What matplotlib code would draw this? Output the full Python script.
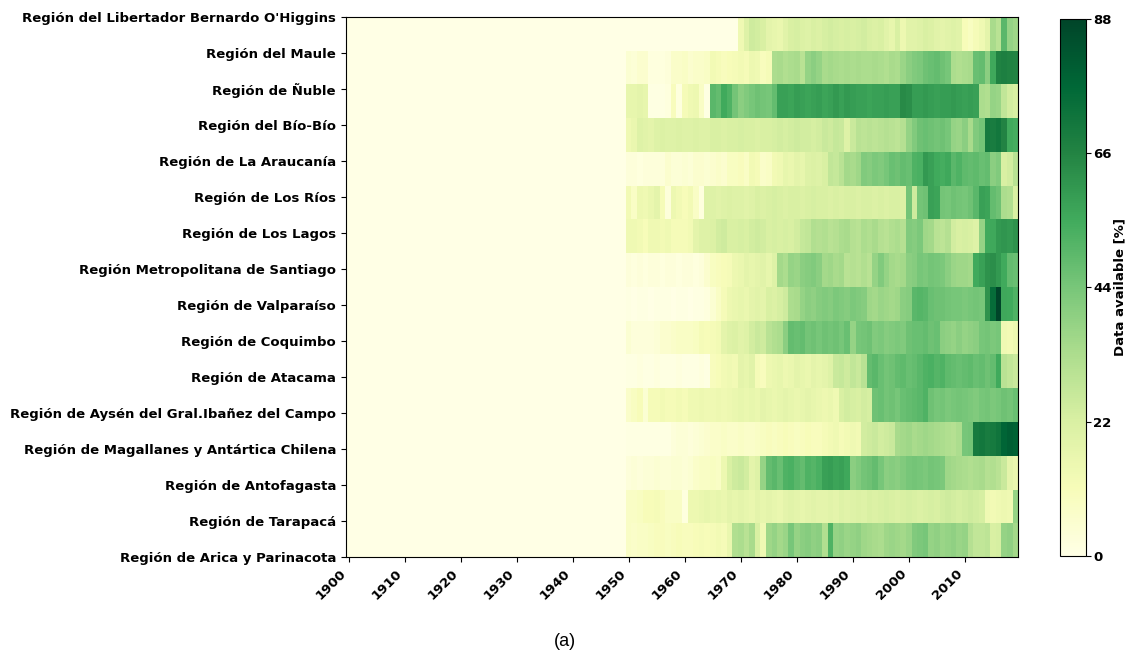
import numpy as np
import matplotlib
matplotlib.use("Agg")
import matplotlib.pyplot as plt

regions = [
    "Región de Arica y Parinacota",
    "Región de Tarapacá",
    "Región de Antofagasta",
    "Región de Magallanes y Antártica Chilena",
    "Región de Aysén del Gral.Ibañez del Campo",
    "Región de Atacama",
    "Región de Coquimbo",
    "Región de Valparaíso",
    "Región Metropolitana de Santiago",
    "Región de Los Lagos",
    "Región de Los Ríos",
    "Región de La Araucanía",
    "Región del Bío-Bío",
    "Región de Ñuble",
    "Región del Maule",
    "Región del Libertador Bernardo O'Higgins",
]

years = np.arange(1900, 2020)
first_data_year = 1950  # all cells before this year are 0

# values for 1950..2019 (% data available)
arica = [8, 7, 8, 8, 9, 10, 10, 9, 10, 11, 10, 10, 11, 12, 11, 12, 13, 12, 16, 32,
         33, 30, 34, 22, 14, 36, 38, 35, 37, 44, 38, 40, 41, 39, 40,
         32, 52, 38, 39, 37, 38, 39, 36, 35, 34, 33, 36, 37, 36, 35, 37, 42, 43, 44, 38,
         39, 37, 38, 39, 37, 38, 31, 28, 28, 29, 22, 23, 38, 39, 35]
tarapaca = [8, 8, 9, 11, 11, 12, 10, 8, 8, 8, 2, 15, 15, 16, 17, 16, 17, 16, 18, 17,
            18, 17, 16, 18, 17, 18, 17, 16, 18, 19, 18, 17, 18, 19, 18,
            18, 19, 18, 20, 19, 20, 21, 20, 22, 21, 22, 23, 22, 21, 22, 23, 22, 21, 22, 23,
            22, 24, 25, 24, 23, 24, 25, 24, 23, 14, 13, 14, 15, 14, 38]
antofagasta = [3, 4, 3, 4, 4, 5, 4, 4, 5, 5, 4, 5, 7, 8, 8, 9, 8, 15, 22, 25,
               26, 24, 18, 20, 38, 48, 50, 47, 52, 53, 50, 48, 52, 51, 53,
               58, 59, 57, 58, 56, 40, 42, 45, 46, 48, 44, 40, 41, 40, 42, 44, 45, 44, 43, 45,
               44, 43, 36, 35, 34, 33, 32, 33, 34, 31, 32, 30, 26, 18, 16]
magallanes = [1, 1, 1, 1, 1, 1, 1, 1, 3, 4, 4, 3, 4, 5, 6, 7, 7, 8, 7, 7,
              8, 7, 7, 8, 9, 10, 9, 10, 11, 10, 9, 10, 11, 10, 10,
              12, 13, 14, 12, 13, 14, 13, 24, 25, 26, 24, 25, 26, 34, 35, 36, 34, 35, 36, 35,
              34, 33, 32, 31, 33, 44, 45, 70, 71, 69, 70, 72, 78, 80, 79]
aysen = [7, 9, 11, 5, 12, 12, 13, 12, 12, 13, 12, 14, 14, 15, 14, 14, 15, 14, 15, 16,
         17, 16, 17, 16, 18, 17, 16, 17, 18, 17, 16, 17, 18, 17, 16,
         15, 16, 14, 22, 24, 23, 22, 24, 23, 46, 47, 45, 46, 44, 47, 48, 49, 50, 52, 46,
         44, 45, 43, 44, 45, 44, 43, 42, 44, 45, 43, 44, 46, 45, 47]
atacama = [1, 1, 2, 1, 1, 2, 1, 1, 1, 2, 1, 1, 1, 2, 1, 10, 11, 13, 14, 13,
           18, 17, 19, 12, 10, 15, 16, 17, 15, 16, 18, 17, 16, 18, 17,
           18, 20, 26, 27, 25, 28, 26, 30, 48, 50, 47, 45, 46, 48, 49, 47, 48, 50, 52, 53,
           51, 52, 49, 48, 47, 48, 49, 47, 48, 46, 48, 55, 30, 28, 26]
coquimbo = [5, 3, 3, 3, 3, 4, 6, 6, 7, 8, 8, 8, 9, 12, 11, 12, 13, 18, 20, 21,
            19, 20, 24, 26, 25, 30, 32, 33, 40, 48, 47, 48, 45, 46, 44,
            46, 45, 46, 44, 47, 38, 44, 45, 46, 42, 43, 41, 42, 43, 42, 46, 47, 47, 48, 46,
            47, 40, 39, 38, 40, 38, 39, 40, 44, 45, 43, 44, 14, 13, 15]
valparaiso = [1, 0, 1, 1, 0, 1, 1, 1, 0, 1, 1, 0, 1, 1, 2, 5, 8, 12, 15, 16,
              17, 16, 18, 19, 18, 22, 21, 23, 25, 33, 34, 38, 40, 39, 41,
              42, 41, 43, 42, 41, 43, 42, 41, 36, 35, 37, 36, 35, 36, 40, 41, 50, 51, 50, 47,
              46, 46, 45, 44, 44, 43, 44, 45, 44, 62, 75, 88, 56, 55, 52]
metropolitana = [3, 2, 3, 2, 3, 3, 2, 3, 3, 2, 3, 3, 2, 3, 6, 9, 10, 11, 12, 15,
                 16, 18, 17, 18, 19, 17, 20, 35, 33, 38, 37, 40, 41, 42, 40,
                 35, 36, 34, 35, 30, 31, 30, 32, 30, 38, 42, 38, 35, 34, 35, 40, 41, 44, 43, 45,
                 44, 43, 40, 37, 36, 36, 35, 55, 58, 62, 63, 60, 55, 48, 47]
los_lagos = [14, 14, 13, 11, 14, 14, 13, 14, 12, 12, 12, 13, 18, 20, 20, 21, 24, 25, 22, 22,
             23, 22, 24, 25, 24, 22, 23, 22, 23, 22, 24, 27, 28, 32, 31,
             32, 30, 31, 33, 34, 31, 30, 33, 32, 34, 31, 30, 32, 33, 31, 42, 41, 43, 36, 35,
             30, 29, 31, 24, 22, 23, 22, 20, 38, 55, 56, 60, 61, 60, 62]
los_rios = [13, 8, 15, 14, 16, 18, 12, 3, 15, 13, 11, 13, 8, 2, 20, 20, 19, 20, 21, 20,
            20, 19, 20, 22, 21, 22, 23, 22, 21, 22, 22, 21, 22, 23, 22,
            22, 21, 22, 21, 22, 22, 21, 22, 22, 21, 22, 21, 22, 22, 21, 45, 25, 45, 46, 58,
            57, 45, 44, 46, 45, 44, 46, 50, 58, 57, 48, 46, 33, 32, 22]
araucania = [3, 3, 2, 3, 3, 3, 3, 6, 4, 4, 5, 4, 6, 6, 5, 6, 7, 6, 9, 9,
             10, 8, 13, 12, 7, 8, 13, 14, 17, 16, 18, 17, 20, 21, 20,
             22, 28, 27, 30, 35, 34, 36, 42, 41, 43, 42, 44, 47, 46, 48, 47, 52, 53, 60, 58,
             55, 54, 56, 50, 52, 49, 48, 49, 47, 48, 40, 42, 22, 24, 30]
biobio = [14, 16, 20, 19, 18, 20, 21, 20, 20, 21, 20, 20, 21, 20, 20, 22, 22, 21, 22, 22,
          23, 22, 22, 21, 22, 22, 23, 24, 23, 24, 25, 24, 24, 23, 24,
          26, 25, 27, 26, 20, 26, 30, 29, 30, 29, 30, 31, 30, 29, 31, 38, 42, 46, 47, 46,
          45, 46, 44, 38, 37, 40, 34, 42, 45, 70, 69, 71, 66, 55, 54]
nuble = [17, 17, 18, 17, 1, 1, 1, 2, 10, 2, 12, 14, 15, 8, 1, 50, 48, 55, 52, 45,
         40, 42, 44, 46, 45, 44, 48, 58, 58, 57, 59, 58, 57, 58, 59,
         57, 58, 60, 58, 60, 59, 58, 58, 57, 58, 58, 59, 58, 58, 64, 63, 59, 59, 60, 59,
         58, 59, 59, 60, 59, 58, 59, 58, 33, 32, 38, 37, 28, 24, 22]
maule = [5, 4, 6, 6, 2, 2, 2, 3, 7, 7, 8, 6, 7, 7, 8, 13, 12, 10, 11, 12,
         13, 12, 15, 14, 10, 12, 33, 34, 32, 33, 34, 30, 38, 40, 38,
         34, 35, 34, 33, 34, 33, 34, 33, 33, 34, 33, 32, 34, 33, 37, 40, 42, 43, 46, 47,
         48, 46, 44, 33, 32, 33, 34, 47, 48, 40, 56, 67, 68, 67, 66]
ohiggins = [0, 0, 0, 0, 0, 0, 0, 0, 0, 0, 0, 0, 0, 0, 0, 0, 0, 0, 0, 0,
            14, 20, 25, 24, 22, 18, 17, 16, 19, 22, 23, 21, 20, 22, 21,
            23, 24, 23, 22, 23, 22, 23, 24, 22, 21, 22, 19, 17, 22, 15, 19, 19, 20, 22, 21,
            19, 18, 19, 20, 19, 11, 9, 12, 14, 18, 34, 30, 50, 38, 36]

rows = [arica, tarapaca, antofagasta, magallanes, aysen, atacama, coquimbo,
        valparaiso, metropolitana, los_lagos, los_rios, araucania, biobio,
        nuble, maule, ohiggins]

Z = np.zeros((len(regions), len(years)))
start = int(np.where(years == first_data_year)[0][0])
for i, r in enumerate(rows):
    Z[i, start:start + len(r)] = r

plt.rcParams['font.family'] = ['DejaVu Sans']
fig = plt.figure(figsize=(11.29, 6.53), dpi=100)
ax = fig.add_axes([0.3062, 0.147, 0.5956, 0.827])

x_edges = np.append(years - 0.5, years[-1] + 0.5)
y_edges = np.arange(len(regions) + 1)
mesh = ax.pcolormesh(x_edges, y_edges, Z, cmap='YlGn', vmin=0, vmax=88)
ax.set_xlim(x_edges[0], x_edges[-1])
ax.set_ylim(0, len(regions))

xt = np.arange(1900, 2020, 10)
ax.set_xticks(xt)
ax.set_xticklabels([str(v) for v in xt], rotation=45, ha='right',
                   fontsize=9.5, fontweight='bold')
ax.set_yticks(np.linspace(0, len(regions), len(regions)))
ax.set_yticklabels(regions, fontsize=9.5, fontweight='bold')

cax = fig.add_axes([0.9385, 0.149, 0.023, 0.822])
cb = fig.colorbar(mesh, cax=cax, ticks=[0, 22, 44, 66, 88])
cb.ax.tick_params(labelsize=9.5, pad=2)
for t in cb.ax.get_yticklabels():
    t.set_fontweight('bold')
cb.set_label('Data available [%]', fontsize=9.5, fontweight='bold', labelpad=1)

fig.text(0.5, 0.005, '(a)', ha='center', va='bottom', fontsize=13,
         family=['Liberation Sans', 'DejaVu Sans'])

fig.savefig('out.png', dpi=100)
